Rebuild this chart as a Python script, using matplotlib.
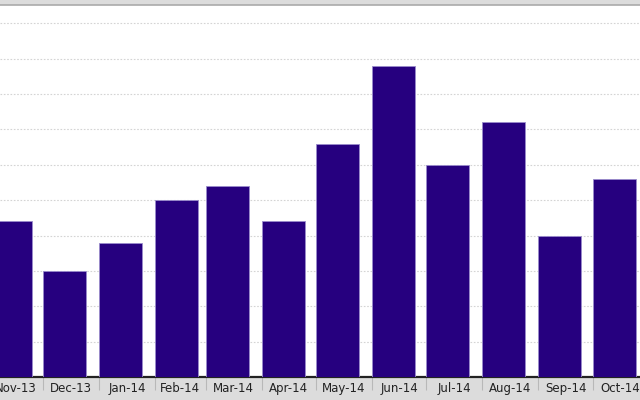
import datetime as dt
import matplotlib
matplotlib.use('Agg')
import matplotlib.pyplot as plt
import matplotlib.dates as mdates

months = ['Nov-13', 'Dec-13', 'Jan-14', 'Feb-14', 'Mar-14', 'Apr-14',
          'May-14', 'Jun-14', 'Jul-14', 'Aug-14', 'Sep-14', 'Oct-14']
month_starts = [dt.date(2013, 11, 1), dt.date(2013, 12, 1), dt.date(2014, 1, 1),
                dt.date(2014, 2, 1), dt.date(2014, 3, 1), dt.date(2014, 4, 1),
                dt.date(2014, 5, 1), dt.date(2014, 6, 1), dt.date(2014, 7, 1),
                dt.date(2014, 8, 1), dt.date(2014, 9, 1), dt.date(2014, 10, 1),
                dt.date(2014, 11, 1)]
counts = [22, 15, 19, 25, 27, 22, 33, 44, 30, 36, 20, 28]

bar_color = '#26007f'
band_grey = '#dcdcdc'

starts = mdates.date2num(month_starts)
mids = [(a + b) / 2 for a, b in zip(starts[:-1], starts[1:])]

px_per_day = 1.808
x_left = mdates.date2num(dt.date(2013, 12, 1)) - 43 / px_per_day
x_right = x_left + 640 / px_per_day

fig = plt.figure(figsize=(6.4, 4), dpi=100, facecolor=band_grey)
ax = fig.add_axes([0, 23 / 400, 1, 1 - 23 / 400 - 4.5 / 400])
ax.set_facecolor('white')

ax.bar(starts[:-1], counts, width=43 / px_per_day, align='edge',
       color=bar_color, edgecolor='#9a8ccc', linewidth=0.6, zorder=3)

ax.set_yticks(range(5, 55, 5))
ax.yaxis.grid(True, color='#d4d4d4', linestyle=(0, (1.5, 1.5)), linewidth=0.8, zorder=0)
ax.tick_params(axis='y', left=False, labelleft=False)

# month boundaries as separators, labels centred in each month
ax.set_xticks(starts)
ax.set_xticklabels([])
ax.tick_params(axis='x', which='major', direction='out', length=9,
               width=0.8, color='#b8b8b8', pad=0)
ax.set_xticks(mids, minor=True)
ax.set_xticklabels(months, minor=True)
ax.tick_params(axis='x', which='minor', length=0, pad=3.5,
               labelsize=8.5, labelcolor='#222222')

# limits last, set_xticks would widen them otherwise
ax.set_xlim(x_left, x_right)
ax.set_ylim(0, 372.5 / 35.37 * 5)

for side in ['left', 'right']:
    ax.spines[side].set_visible(False)
ax.spines['bottom'].set_color('#222222')
ax.spines['bottom'].set_linewidth(1.6)
ax.spines['top'].set_color('#aaaaaa')
ax.spines['top'].set_linewidth(1.2)

fig.savefig('out.png', dpi=100, facecolor=band_grey)
